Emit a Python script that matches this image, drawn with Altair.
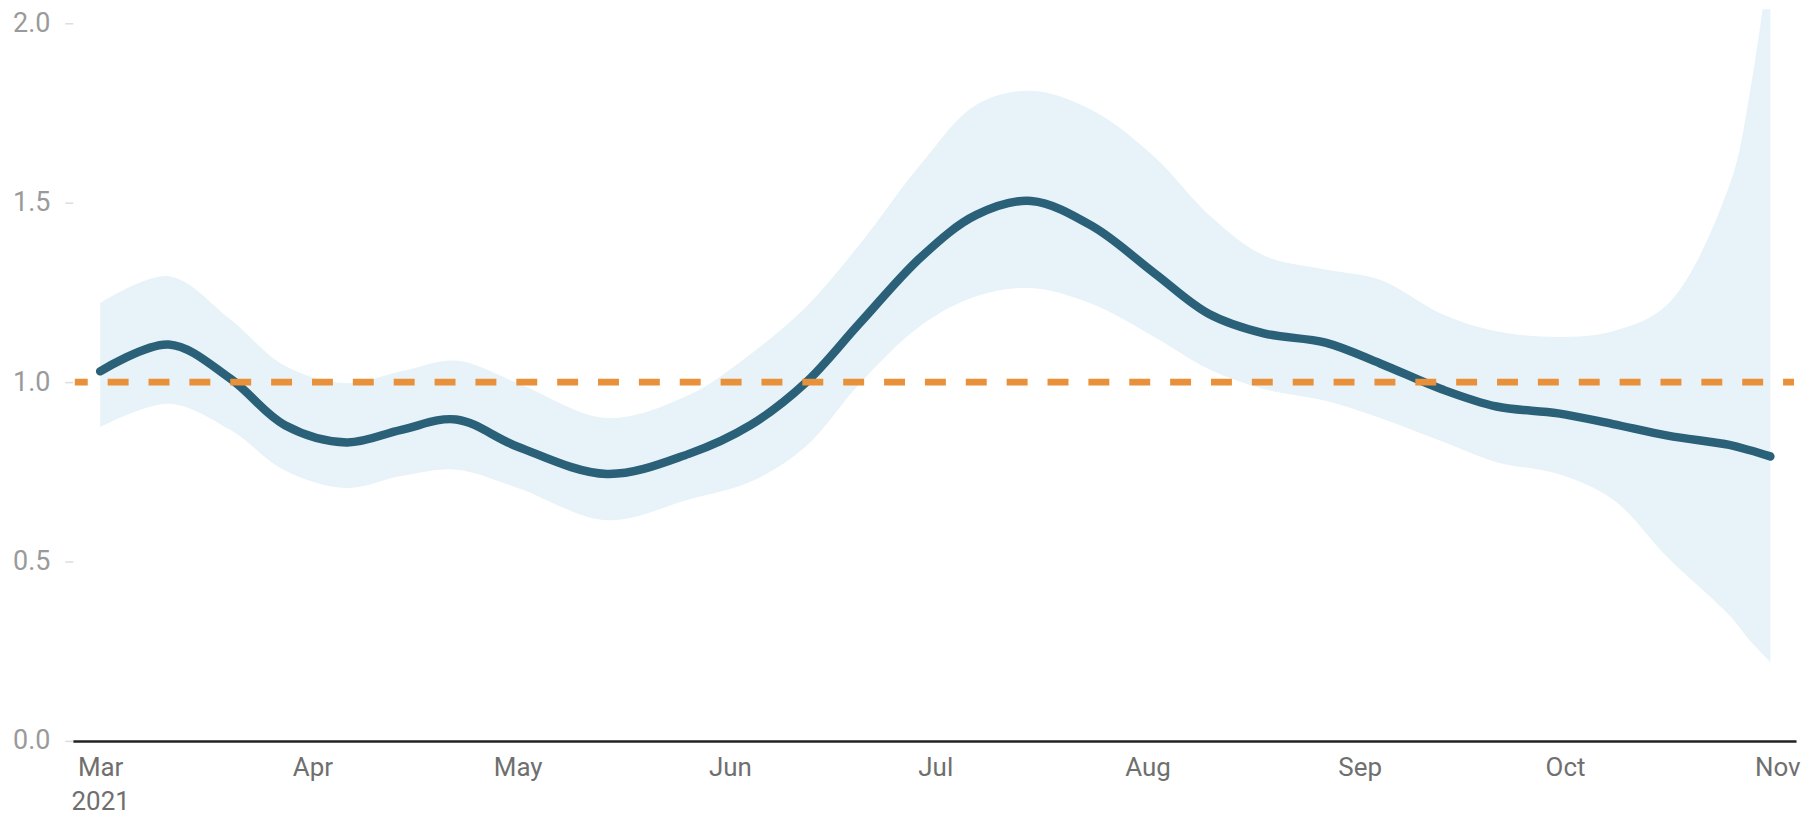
import altair as alt
import pandas as pd

dates = [
    "2021-03-01", "2021-03-11", "2021-03-20", "2021-03-28", "2021-04-06",
    "2021-04-14", "2021-04-22", "2021-05-01", "2021-05-14", "2021-05-26",
    "2021-06-04", "2021-06-12", "2021-06-20", "2021-06-29", "2021-07-07",
    "2021-07-15", "2021-07-24", "2021-08-02", "2021-08-10", "2021-08-18",
    "2021-08-27", "2021-09-04", "2021-09-13", "2021-09-21", "2021-09-30",
    "2021-10-08", "2021-10-16", "2021-10-25", "2021-10-28", "2021-10-31",
]
estimate = [
    1.03, 1.105, 1.01, 0.88, 0.832,
    0.867, 0.896, 0.82, 0.744, 0.80,
    0.88, 0.997, 1.165, 1.35, 1.466,
    1.505, 1.434, 1.304, 1.19, 1.136,
    1.11, 1.052, 0.98, 0.932, 0.913,
    0.883, 0.851, 0.825, 0.81, 0.793,
]
upper = [
    1.22, 1.295, 1.175, 1.045, 0.997,
    1.03, 1.06, 0.997, 0.90, 0.964,
    1.078, 1.207, 1.385, 1.61, 1.773,
    1.812, 1.757, 1.628, 1.466, 1.353,
    1.314, 1.285, 1.19, 1.142, 1.126,
    1.142, 1.217, 1.547, 1.806, 2.2,
]
lower = [
    0.875, 0.94, 0.867, 0.754, 0.705,
    0.738, 0.756, 0.705, 0.615, 0.673,
    0.722, 0.819, 0.997, 1.159, 1.239,
    1.262, 1.217, 1.126, 1.036, 0.981,
    0.948, 0.90, 0.835, 0.777, 0.744,
    0.673, 0.511, 0.35, 0.28, 0.22,
]
y_ticks = [0.0, 0.5, 1.0, 1.5, 2.0]
reference_level = 1.0

df = pd.DataFrame({"date": dates, "estimate": estimate, "upper": upper, "lower": lower})

W, H = 1729, 734
FONT = "Roboto"

month_ticks = [alt.DateTime(year=2021, month=m, date=1, utc=True) for m in range(3, 12)]
x_scale = alt.Scale(
    type="utc",
    domain=[alt.DateTime(year=2021, month=2, date=25, utc=True),
            alt.DateTime(year=2021, month=11, date=3, hours=18, utc=True)],
)
y_scale = alt.Scale(domain=[0, 2.039], nice=False, zero=True)

x_axis = alt.Axis(
    values=month_ticks,
    labelExpr="utcmonth(datum.value) == 2 ? ['Mar', '2021'] : utcFormat(datum.value, '%b')",
    ticks=False, grid=False,
    domainColor="#222222", domainWidth=2.5,
    labelColor="#6f6f6f", labelFontSize=26, labelFont=FONT,
    labelPadding=14, labelLineHeight=34, labelOverlap=False, labelFlush=False,
    title=None,
)
y_axis = alt.Axis(
    values=y_ticks, format=".1f",
    domain=False, grid=False,
    tickColor="#dddddd", tickSize=8, tickWidth=1.5,
    labelColor="#9a9a9a", labelFontSize=27, labelFont=FONT,
    labelPadding=15, title=None,
)

base = alt.Chart(df)

band = base.mark_area(color="#E7F3F8", interpolate="catmull-rom", clip=True).encode(
    x=alt.X("date:T", scale=x_scale, axis=x_axis),
    y=alt.Y("lower:Q", scale=y_scale, axis=y_axis),
    y2="upper:Q",
)

line = base.mark_line(color="#2B6079", strokeWidth=8.5, interpolate="catmull-rom",
                      strokeCap="round").encode(
    x=alt.X("date:T", scale=x_scale),
    y=alt.Y("estimate:Q", scale=y_scale),
)

rule = alt.Chart(pd.DataFrame({"level": [reference_level]})).mark_rule(
    color="#E8913A", strokeWidth=7, strokeDash=[21, 20], strokeDashOffset=8
).encode(
    y=alt.Y("level:Q", scale=y_scale),
    x=alt.value(2), x2=alt.value(W - 2),
)

chart = (band + line + rule).properties(
    width=W, height=H,
    autosize=alt.AutoSizeParams(type="none"),
    padding={"left": 65, "top": 0, "right": 10, "bottom": 75},
).configure(background="white").configure_view(stroke=None, strokeWidth=0)

chart.save("out.html", embed_options={"renderer": "svg", "actions": False})
